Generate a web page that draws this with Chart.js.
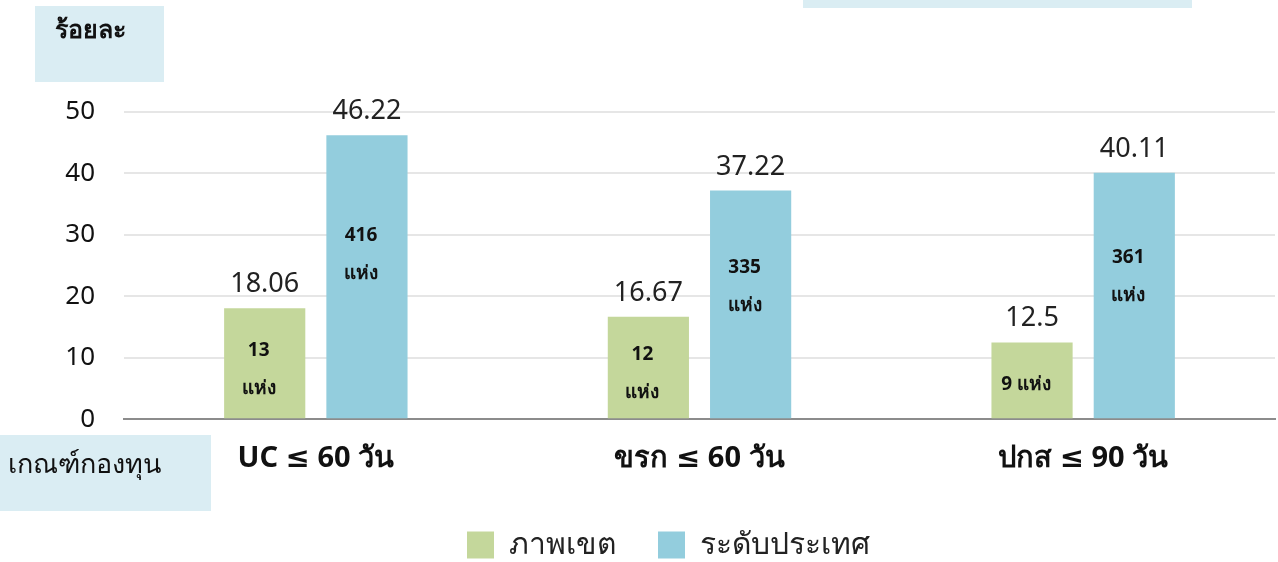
<!DOCTYPE html>
<html>
<head>
<meta charset="utf-8">
<script src="https://cdn.jsdelivr.net/npm/chart.js@4/dist/chart.umd.min.js"></script>
<style>
html, body { margin: 0; padding: 0; background: #fff; }
#wrap { width: 1278px; height: 562px; position: relative; }
</style>
</head>
<body>
<div id="wrap"><canvas id="myChart"></canvas></div>
<script>
var categories = ['UC ≤ 60 วัน', 'ขรก ≤ 60 วัน', 'ปกส ≤ 90 วัน'];
var seriesNames = ['ภาพเขต', 'ระดับประเทศ'];
var regionValues = [18.06, 16.67, 12.5];
var countryValues = [46.22, 37.22, 40.11];
var regionCountLabels = [['13', 'แห่ง'], ['12', 'แห่ง'], ['9 แห่ง']];
var countryCountLabels = [['416', 'แห่ง'], ['335', 'แห่ง'], ['361', 'แห่ง']];
var yTicks = [0, 10, 20, 30, 40, 50];

var FONT = "'Noto Sans', 'DejaVu Sans', sans-serif";
var greenColor = '#c4d79b';
var blueColor = '#93cddd';
var boxColor = '#daedf3';

// boxes and the fixed labels around the plot
var decorPlugin = {
    id: 'decor',
    beforeDraw: function (chart) {
        var ctx = chart.ctx;
        ctx.save();
        ctx.fillStyle = boxColor;
        ctx.fillRect(35, 6, 129, 76);
        ctx.fillRect(0, 435, 211, 76);
        ctx.fillRect(803, 0, 389, 8);
        ctx.fillStyle = '#111';
        ctx.textBaseline = 'middle';
        ctx.textAlign = 'left';
        ctx.font = 'bold 25px ' + FONT;
        ctx.fillText('ร้อยละ', 55, 31);
        ctx.font = '27px ' + FONT;
        ctx.fillText('เกณฑ์กองทุน', 8, 465);
        ctx.restore();
    }
};

// value labels above bars and counts inside
var labelPlugin = {
    id: 'barLabels',
    afterDatasetsDraw: function (chart) {
        var ctx = chart.ctx;
        var inner = [regionCountLabels, countryCountLabels];
        var innerFrac = [0.45, 0.58];
        ctx.save();
        ctx.textAlign = 'center';
        chart.data.datasets.forEach(function (ds, di) {
            var meta = chart.getDatasetMeta(di);
            meta.data.forEach(function (bar, i) {
                var v = ds.data[i];
                ctx.fillStyle = '#222';
                ctx.textBaseline = 'alphabetic';
                ctx.font = '27px ' + FONT;
                ctx.fillText(String(v), bar.x, bar.y - 16);

                var lines = inner[di][i];
                var yc = chart.scales.y.getPixelForValue(v * innerFrac[di]);
                var lh = 38;
                var y0 = yc - (lines.length - 1) * lh / 2;
                ctx.font = 'bold 19px ' + FONT;
                ctx.textBaseline = 'middle';
                ctx.fillStyle = '#111';
                lines.forEach(function (t, k) {
                    ctx.fillText(t, bar.x - 6, y0 + k * lh);
                });
            });
        });
        ctx.restore();
    }
};

var canvas = document.getElementById('myChart');
var ctx = canvas.getContext('2d');

var myChart = new Chart(ctx, {
    type: 'bar',
    data: {
        labels: categories,
        datasets: [{
            label: seriesNames[0],
            data: regionValues,
            backgroundColor: greenColor,
            categoryPercentage: 0.533,
            barPercentage: 0.794
        }, {
            label: seriesNames[1],
            data: countryValues,
            backgroundColor: blueColor,
            categoryPercentage: 0.533,
            barPercentage: 0.794
        }]
    },
    options: {
        responsive: true,
        maintainAspectRatio: false,
        animation: false,
        layout: {
            padding: { top: 112, right: 3, left: 62, bottom: -8 }
        },
        plugins: {
            legend: {
                position: 'bottom',
                labels: {
                    boxWidth: 27,
                    boxHeight: 27,
                    padding: 42,
                    color: '#222',
                    font: { family: FONT, size: 30 }
                }
            },
            tooltip: { enabled: false }
        },
        scales: {
            x: {
                grid: { display: false },
                border: { color: '#8c8c8c', width: 2 },
                afterFit: function (axis) { axis.height -= 2; },
                ticks: {
                    color: '#111',
                    padding: 14,
                    font: { family: FONT, size: 29, weight: 'bold' }
                }
            },
            y: {
                min: 0,
                max: 50,
                afterBuildTicks: function (axis) {
                    axis.ticks = yTicks.map(function (t) { return { value: t }; });
                },
                afterFit: function (axis) { axis.width = 62; },
                border: { display: false },
                grid: { color: '#e6e6e6', lineWidth: 2, drawTicks: false },
                ticks: {
                    color: '#111',
                    padding: 29,
                    font: { family: FONT, size: 26 }
                }
            }
        }
    },
    plugins: [decorPlugin, labelPlugin]
});
</script>
</body>
</html>
